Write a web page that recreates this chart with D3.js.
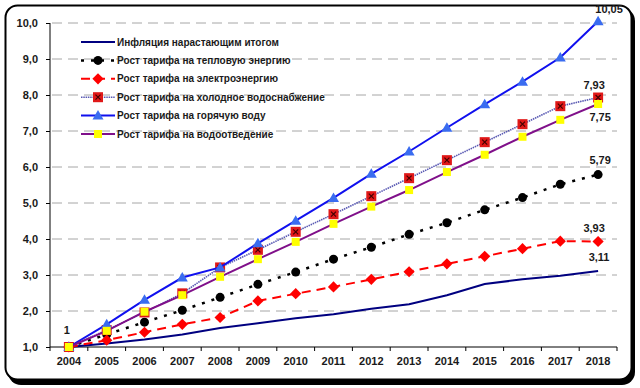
<!DOCTYPE html>
<html>
<head>
<meta charset="utf-8">
<script src="https://cdn.jsdelivr.net/npm/d3@7"></script>
<style>
  body { margin: 0; background: #fff; }
  text { font-family: "Liberation Sans", Arial, sans-serif; font-weight: bold; font-size: 11px; fill: #1a1a1a; }
</style>
</head>
<body>
<svg id="chart" width="640" height="388"></svg>
<script>
var years = ["2004","2005","2006","2007","2008","2009","2010","2011","2012","2013","2014","2015","2016","2017","2018"];
var yTicks = [1,2,3,4,5,6,7,8,9,10];

var inflation = [1, 1.10, 1.21, 1.35, 1.53, 1.66, 1.80, 1.91, 2.06, 2.19, 2.44, 2.75, 2.88, 2.98, 3.11];
var heat      = [1, 1.35, 1.69, 2.02, 2.38, 2.74, 3.08, 3.44, 3.77, 4.13, 4.45, 4.81, 5.15, 5.52, 5.79];
var power     = [1, 1.19, 1.41, 1.63, 1.82, 2.28, 2.48, 2.67, 2.88, 3.09, 3.31, 3.52, 3.73, 3.94, 3.93];
var coldWater = [1, 1.47, 1.96, 2.49, 3.21, 3.70, 4.20, 4.69, 5.19, 5.69, 6.19, 6.69, 7.19, 7.69, 7.93];
var hotWater  = [1, 1.63, 2.31, 2.93, 3.21, 3.88, 4.51, 5.14, 5.81, 6.43, 7.09, 7.74, 8.37, 9.04, 10.05];
var sewage    = [1, 1.45, 1.98, 2.44, 2.95, 3.44, 3.92, 4.42, 4.90, 5.36, 5.86, 6.34, 6.84, 7.31, 7.75];

var seriesNames = [
  "Инфляция нарастающим итогом",
  "Рост тарифа на тепловую энергию",
  "Рост тарифа на электроэнергию",
  "Рост тарифа на холодное водоснабжение",
  "Рост тарифа на горячую воду",
  "Рост тарифа на водоотведение"
];

// data labels: series values, year index, text, offset
var valueLabels = [
  {values: inflation, i: 0,  text: "1",     dx: -2, dy: -13},
  {values: hotWater,  i: 14, text: "10,05", dx: 11, dy: -8},
  {values: coldWater, i: 14, text: "7,93",  dx: -4, dy: -9},
  {values: sewage,    i: 14, text: "7,75",  dx: 2,  dy: 17},
  {values: heat,      i: 14, text: "5,79",  dx: 2,  dy: -11},
  {values: power,     i: 14, text: "3,93",  dx: -4, dy: -10},
  {values: inflation, i: 14, text: "3,11",  dx: 1,  dy: -10}
];

var svg = d3.select("#chart");

// rounded frame with heavier bottom/right edge
svg.append("rect")
    .attr("x", 8).attr("y", 8).attr("width", 627).attr("height", 377)
    .attr("rx", 13).attr("fill", "#000");
svg.append("rect")
    .attr("x", 5.5).attr("y", 5.5).attr("width", 626).attr("height", 374)
    .attr("rx", 12).attr("fill", "#fff").attr("stroke", "#000").attr("stroke-width", 2);

var x = d3.scaleBand().domain(years).range([50, 617]);
var y = d3.scaleLinear().domain([1, 10]).range([347, 23]);

var g = svg.append("g");

// gridlines
g.selectAll(".grid")
  .data(yTicks.slice(1))
  .enter().append("line")
    .attr("x1", 52).attr("x2", 617)
    .attr("y1", function(d) { return y(d); })
    .attr("y2", function(d) { return y(d); })
    .attr("stroke", "#a6a6a6")
    .attr("stroke-width", 1)
    .attr("stroke-dasharray", "10,6");

var yAxis = g.append("g")
    .attr("transform", "translate(50,0)")
    .call(d3.axisLeft(y).tickValues(yTicks).tickSize(4).tickPadding(8)
      .tickFormat(function(d) { return d3.format(".1f")(d).replace(".", ","); }));

var xAxis = g.append("g")
    .attr("transform", "translate(0,347)")
    .call(d3.axisBottom(x).tickSize(0).tickPadding(10));

// boundary ticks for the band axis
xAxis.selectAll(".bound")
  .data(d3.range(years.length + 1))
  .enter().append("line")
    .attr("x1", function(i) { return 50 + i * x.step(); })
    .attr("x2", function(i) { return 50 + i * x.step(); })
    .attr("y1", 0).attr("y2", 4)
    .attr("stroke", "#000");

[yAxis, xAxis].forEach(function(a) {
  a.select(".domain").attr("stroke", "#000");
  a.selectAll(".tick line").attr("stroke", "#000");
  a.selectAll("text")
    .style("font-family", '"Liberation Sans", Arial, sans-serif')
    .style("font-weight", "bold").style("font-size", "11px")
    .attr("fill", "#1a1a1a");
});
yAxis.select(".domain").attr("d", "M0,347V23");
xAxis.select(".domain").attr("d", "M50,0H617");

var cx = function(i) { return x(years[i]) + x.bandwidth() / 2; };

var line = d3.line()
    .x(function(d, i) { return cx(i); })
    .y(function(d) { return y(d); });

var series = [
  {values: inflation, color: "#000080", width: 2, dash: null, marker: null},
  {values: heat, color: "#000", width: 2.5, dash: "3,7", marker: "circle"},
  {values: power, color: "#ff0000", width: 2, dash: "9,6", marker: "diamond"},
  {values: coldWater, color: "#5959b3", width: 1.6, dash: "1.5,0.8", marker: "xsquare"},
  {values: hotWater, color: "#1010ee", width: 2, dash: null, marker: "triangle"},
  {values: sewage, color: "#80108a", width: 2, dash: null, marker: "square"}
];

function drawMarker(sel, type) {
  if (type === "circle") {
    sel.append("circle").attr("r", 4.5).attr("fill", "#000");
  } else if (type === "diamond") {
    sel.append("path").attr("d", d3.symbol(d3.symbolDiamond2, 80)()).attr("fill", "#ff0000");
  } else if (type === "xsquare") {
    sel.append("rect").attr("x", -5).attr("y", -5).attr("width", 10).attr("height", 10).attr("fill", "#e01818");
    sel.append("path").attr("d", "M-2.5,-2.5L2.5,2.5M-2.5,2.5L2.5,-2.5").attr("stroke", "#400").attr("stroke-width", 1.2);
  } else if (type === "triangle") {
    sel.append("path").attr("d", "M0,-5.5L5.5,4L-5.5,4Z").attr("fill", "#3a6cf0");
  } else if (type === "square") {
    sel.append("rect").attr("x", -4).attr("y", -4).attr("width", 8).attr("height", 8).attr("fill", "#ffff00");
  }
}

series.forEach(function(s) {
  g.append("path")
      .datum(s.values)
      .attr("d", line)
      .attr("fill", "none")
      .attr("stroke", s.color)
      .attr("stroke-width", s.width)
      .attr("stroke-dasharray", s.dash);
  if (s.marker) {
    g.selectAll(null)
      .data(s.values)
      .enter().append("g")
        .attr("transform", function(d, i) { return "translate(" + cx(i) + "," + y(d) + ")"; })
        .each(function() { drawMarker(d3.select(this), s.marker); });
  }
});

g.selectAll(".vlabel")
  .data(valueLabels)
  .enter().append("text")
    .attr("x", function(d) { return cx(d.i) + d.dx; })
    .attr("y", function(d) { return y(d.values[d.i]) + d.dy; })
    .attr("text-anchor", "middle")
    .text(function(d) { return d.text; });

// legend
var legend = g.selectAll(".legend")
  .data(series)
  .enter().append("g")
    .attr("class", "legend")
    .attr("transform", function(d, i) { return "translate(81," + (42 + i * 18.4) + ")"; });

legend.append("line")
    .attr("x1", 0).attr("x2", 34).attr("y1", 0).attr("y2", 0)
    .attr("stroke", function(d) { return d.color; })
    .attr("stroke-width", function(d) { return d.width; })
    .attr("stroke-dasharray", function(d) { return d.dash; });

legend.append("g")
    .attr("transform", "translate(17,0)")
    .each(function(d) { drawMarker(d3.select(this), d.marker); });

legend.append("text")
    .attr("x", 36)
    .attr("dy", "0.35em")
    .style("font-size", "10px")
    .text(function(d, i) { return seriesNames[i]; });
</script>
</body>
</html>
